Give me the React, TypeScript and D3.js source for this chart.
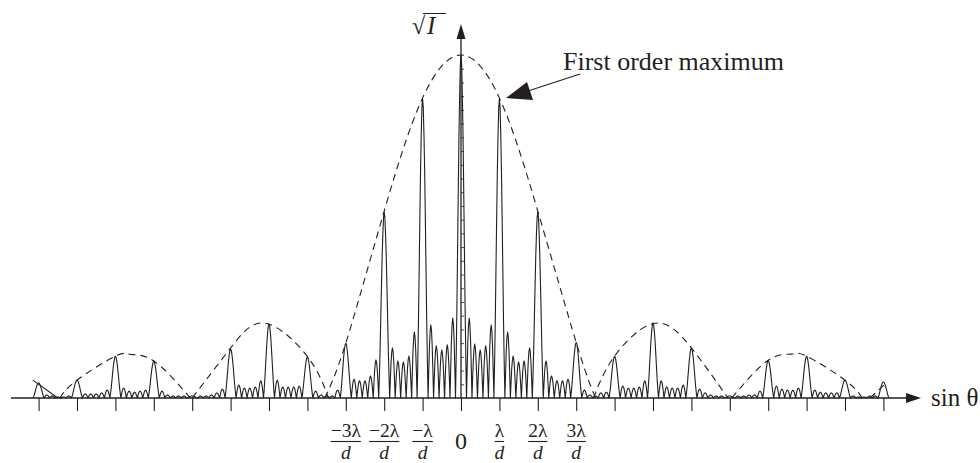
import React, { useEffect, useRef } from 'react';
import * as d3 from 'd3';

// Diffraction orders in units of lambda/d
const ORDERS = [-11, -10, -9, -8, -7, -6, -5, -4, -3, -2, -1, 0, 1, 2, 3, 4, 5, 6, 7, 8, 9, 10, 11];

// Height of each principal maximum (central maximum = 100)
const PEAK_HEIGHTS = [
  4.4, 5.2, 12.2, 10.8, 0.6, 14.3, 21.6, 12.0, 16.0, 54.2, 87.2, 100,
  87.2, 54.2, 16.2, 12.2, 21.9, 14.6, 0.6, 11.0, 12.2, 5.2, 4.7,
];

// Secondary maxima between consecutive orders (gap -11..-10 up to 10..11)
const SIDE_LOBES = [
  [0.9, 0.6, 0.3, 0.3, 0.6],
  [1.2, 1.2, 1.2, 1.5, 2.3],
  [2.9, 2.0, 1.7, 2.0, 2.3],
  [2.0, 0.9, 0.6, 0.6, 0.6],
  [0.6, 0.6, 0.9, 1.5, 2.6],
  [3.8, 2.9, 2.9, 3.2, 5.0],
  [5.2, 3.2, 3.2, 3.2, 3.5],
  [2.0, 0.9, 0.6, 0.6, 2.3],
  [5.5, 5.0, 5.0, 6.4, 11.1],
  [14.6, 10.8, 10.5, 12.2, 19.2],
  [21.3, 15.2, 14.0, 15.5, 23.3],
  [23.3, 15.7, 14.0, 15.2, 21.3],
  [19.2, 12.2, 10.5, 10.8, 14.6],
  [10.8, 6.4, 5.0, 5.0, 5.5],
  [2.3, 0.9, 0.6, 1.5, 1.7],
  [3.5, 2.9, 2.9, 3.2, 5.0],
  [5.0, 3.2, 2.9, 2.9, 3.8],
  [2.6, 1.5, 0.9, 0.6, 0.6],
  [0.6, 0.6, 0.9, 0.9, 2.0],
  [3.5, 2.6, 2.3, 2.3, 2.9],
  [2.3, 1.7, 1.5, 1.5, 1.5],
  [0.6, 0.3, 0.3, 0.6, 0.6],
];

// Dashed envelope lobes, [order, height]
const ENV_LEFT_2 = [[-10.45, 0], [-10, 5.2], [-9, 12.2], [-8.6, 12.7], [-8, 10.8], [-7.05, 0]];
const ENV_LEFT_1 = [[-7, 0], [-6, 14.6], [-5.1, 21.8], [-4, 12.1], [-3.45, 0]];
const ENV_CENTER = [[-3.55, 0], [-3, 16], [-2, 54.5], [-1, 87.5], [0, 100], [1, 87.5], [2, 54.5], [3, 16.2], [3.5, 0]];
const ENV_RIGHT_1 = [[3.45, 0], [4, 12.2], [5.05, 21.8], [6, 14.6], [6.95, 0]];
const ENV_RIGHT_2 = [[7.05, 0], [8, 11], [8.6, 12.8], [9, 12.2], [10, 5.2], [10.45, 0]];
const ENV_RIGHT_EDGE = [[10.65, 0], [11.1, 4.7]];
const EDGE_LEFT = [[-11.15, 5.2], [-10.5, 0]];

const TICK_ORDERS = [-3, -2, -1, 0, 1, 2, 3];
const TICK_LABELS = ['\u22123\u03bb', '\u22122\u03bb', '\u2212\u03bb', '0', '\u03bb', '2\u03bb', '3\u03bb'];

const SLITS = 7;

// lobe outlines (t across the lobe, relative height)
const MAIN_PROFILE = [
  [0, 0], [0.0625, 0.12], [0.125, 0.26], [0.1875, 0.43], [0.25, 0.6], [0.3125, 0.76], [0.375, 0.88], [0.4375, 0.97], [0.5, 1],
  [0.5625, 0.97], [0.625, 0.88], [0.6875, 0.76], [0.75, 0.6], [0.8125, 0.43], [0.875, 0.26], [0.9375, 0.12], [1, 0],
];
const SIDE_PROFILE = [[0, 0], [0.125, 0.38], [0.25, 0.71], [0.375, 0.92], [0.5, 1], [0.625, 0.92], [0.75, 0.71], [0.875, 0.38], [1, 0]];

const FONT = "'Liberation Serif', 'Times New Roman', serif";
const INK = '#231f20';

const App = () => {
  const svgRef = useRef(null);

  useEffect(() => {
    const width = 980;
    const height = 463;
    const cx = 461;
    const unit = 38.4;
    const baseY = 398;

    const svg = d3.select(svgRef.current);
    svg.selectAll('*').remove();
    svg.attr('viewBox', [0, 0, width, height]);

    const x = d3.scaleLinear().domain([-12, 12]).range([cx - 12 * unit, cx + 12 * unit]);
    const y = d3.scaleLinear().domain([0, 100]).range([baseY, 55]);

    // build the intensity outline
    const pts = [];
    const addLobe = (x0, w, h, profile) => {
      profile.forEach(([t, f], i) => {
        if (pts.length && i === 0) return;
        pts.push([x0 + t * w, h * f]);
      });
    };
    ORDERS.forEach((k, i) => {
      addLobe(k - 1 / SLITS, 2 / SLITS, PEAK_HEIGHTS[i], MAIN_PROFILE);
      if (i < SIDE_LOBES.length) {
        SIDE_LOBES[i].forEach((h, j) => addLobe(k + (j + 1) / SLITS, 1 / SLITS, h, SIDE_PROFILE));
      }
    });

    const line = d3.line().x(d => x(d[0])).y(d => y(d[1]));
    const smooth = d3.line().x(d => x(d[0])).y(d => y(d[1])).curve(d3.curveNatural);

    // x axis ticks
    const xAxis = d3.axisBottom(x).tickValues(ORDERS).tickSize(13).tickFormat(() => '');
    const gx = svg.append('g').attr('transform', `translate(0,${baseY})`).call(xAxis);
    gx.select('.domain').remove();
    gx.selectAll('line').attr('stroke', INK).attr('stroke-width', 1.1);

    // y axis minor ticks
    const yAxis = d3.axisRight(y).tickValues(d3.range(4, 97, 4)).tickSize(3).tickFormat(() => '');
    const gy = svg.append('g').attr('transform', `translate(${cx},0)`).call(yAxis);
    gy.select('.domain').remove();
    gy.selectAll('line').attr('stroke', INK).attr('stroke-width', 0.8);

    // axis lines
    svg.append('line')
      .attr('x1', 11).attr('x2', 908).attr('y1', baseY).attr('y2', baseY)
      .attr('stroke', INK).attr('stroke-width', 1.3);
    svg.append('path')
      .attr('d', `M921,${baseY} L906,${baseY - 5} L906,${baseY + 5} Z`)
      .attr('fill', INK);
    svg.append('line')
      .attr('x1', cx).attr('x2', cx).attr('y1', baseY).attr('y2', 36)
      .attr('stroke', INK).attr('stroke-width', 1.3);
    svg.append('path')
      .attr('d', `M${cx},24 L${cx - 4.5},39 L${cx + 4.5},39 Z`)
      .attr('fill', INK);

    // envelope
    [ENV_LEFT_2, ENV_LEFT_1, ENV_CENTER, ENV_RIGHT_1, ENV_RIGHT_2, ENV_RIGHT_EDGE].forEach(seg => {
      svg.append('path')
        .datum(seg)
        .attr('fill', 'none')
        .attr('stroke', INK)
        .attr('stroke-width', 1.1)
        .attr('stroke-dasharray', '7 5')
        .attr('d', seg.length > 2 ? smooth : line);
    });
    svg.append('path')
      .datum(EDGE_LEFT)
      .attr('fill', 'none')
      .attr('stroke', INK)
      .attr('stroke-width', 1.1)
      .attr('d', line);

    // intensity curve
    svg.append('path')
      .datum(pts)
      .attr('fill', 'none')
      .attr('stroke', INK)
      .attr('stroke-width', 1.1)
      .attr('stroke-linejoin', 'round')
      .attr('d', line);

    // tick labels
    TICK_ORDERS.forEach((k, i) => {
      const tx = x(k);
      if (TICK_LABELS[i] === '0') {
        svg.append('text')
          .attr('x', tx).attr('y', 449)
          .attr('text-anchor', 'middle')
          .attr('font-family', FONT).attr('font-size', 24).attr('fill', INK)
          .text('0');
        return;
      }
      const num = svg.append('text')
        .attr('x', tx).attr('y', 437)
        .attr('text-anchor', 'middle')
        .attr('font-family', FONT).attr('font-size', 19.5).attr('fill', INK)
        .text(TICK_LABELS[i]);
      const w = num.node().getComputedTextLength();
      svg.append('line')
        .attr('x1', tx - w / 2).attr('x2', tx + w / 2)
        .attr('y1', 441.5).attr('y2', 441.5)
        .attr('stroke', INK).attr('stroke-width', 1.1);
      svg.append('text')
        .attr('x', tx).attr('y', 458.6)
        .attr('text-anchor', 'middle')
        .attr('font-family', FONT).attr('font-size', 19.5).attr('font-style', 'italic').attr('fill', INK)
        .text('d');
    });

    // axis titles
    svg.append('text')
      .attr('x', 931).attr('y', 406)
      .attr('font-family', FONT).attr('font-size', 25).attr('fill', INK)
      .text('sin \u03b8');

    svg.append('text')
      .attr('x', 412).attr('y', 34)
      .attr('font-family', FONT).attr('font-size', 24).attr('fill', INK)
      .text('\u221a');
    svg.append('text')
      .attr('x', 427).attr('y', 34)
      .attr('font-family', FONT).attr('font-size', 25).attr('font-style', 'italic').attr('fill', INK)
      .text('I');
    svg.append('line')
      .attr('x1', 423).attr('x2', 446).attr('y1', 13.5).attr('y2', 13.5)
      .attr('stroke', INK).attr('stroke-width', 1);

    // annotation
    svg.append('text')
      .attr('x', 563).attr('y', 70)
      .attr('font-family', FONT).attr('font-size', 26).attr('fill', INK)
      .text('First order maximum');
    svg.append('line')
      .attr('x1', 580).attr('y1', 74).attr('x2', 528).attr('y2', 91)
      .attr('stroke', INK).attr('stroke-width', 1.1);
    svg.append('path')
      .attr('d', 'M506,98 L527,82 L533,100 Z')
      .attr('fill', INK);
  });

  return (
    <svg
      ref={svgRef}
      width={980}
      height={463}
      style={{ position: 'absolute', left: 0, top: 0, background: '#fff' }}
    ></svg>
  );
};

export default App;
